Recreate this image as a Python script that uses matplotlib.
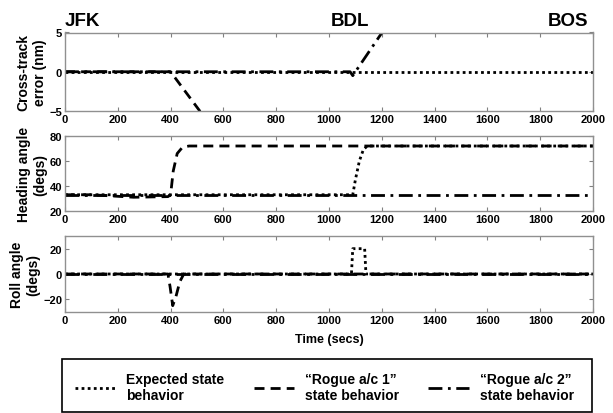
import numpy as np
import matplotlib.pyplot as plt
from matplotlib.patches import Rectangle

plt.rcParams['font.family'] = ['Liberation Sans', 'DejaVu Sans']
plt.rcParams['font.weight'] = 'bold'

# ---- data ----
# expected state behaviour
t_exp      = [0, 1090, 1100, 1115, 1130, 1145, 2000]
xtrk_exp   = [0, 0, 0, 0, 0, 0, 0]
head_exp   = [33, 33, 45, 60, 69, 72, 72]
t_exp_roll = [0, 1085, 1090, 1135, 1140, 2000]
roll_exp   = [0, 0, 20, 20, 0, 0]

# "Rogue a/c 1"
t_r1_xtrk  = [0, 400, 515, 560]
xtrk_r1    = [0, 0, -5.2, -7.3]
t_r1_head  = [0, 100, 180, 260, 390, 400, 410, 425, 445, 470, 2000]
head_r1    = [33, 33, 32, 31, 31.5, 33, 52, 66, 71, 72, 72]
t_r1_roll  = [0, 390, 398, 408, 420, 435, 450, 2000]
roll_r1    = [0, 0, -10, -25, -18, -6, 0, 0]

# "Rogue a/c 2"
t_r2_xtrk  = [0, 1080, 1090, 1205, 1250]
xtrk_r2    = [0, 0, -0.5, 5.2, 7.2]
t_r2_head  = [0, 2000]
head_r2    = [33, 33]
t_r2_roll  = [0, 2000]
roll_r2    = [0, 0]

labels = ['Expected state\nbehavior', '\u201cRogue a/c 1\u201d\nstate behavior',
          '\u201cRogue a/c 2\u201d\nstate behavior']

st_exp = dict(color='k', lw=2, linestyle=(0, (1, 1.2)))
st_r1 = dict(color='k', lw=2, linestyle=(0, (3.6, 2.2)))
st_r2 = dict(color='k', lw=2, linestyle=(0, (5, 2, 1, 2)))

fig = plt.figure(figsize=(6.13, 4.14), dpi=100)
W, H = 613.0, 414.0
left, right = 65 / W, 593 / W
boxes = [(33.5, 112), (137, 212), (237, 313)]
axes = []
for top, bot in boxes:
    ax = fig.add_axes([left, 1 - bot / H, right - left, (bot - top) / H])
    axes.append(ax)

ax1, ax2, ax3 = axes
ax1.plot(t_r1_xtrk, xtrk_r1, **st_r1)
ax1.plot(t_r2_xtrk, xtrk_r2, **st_r2)
ax1.plot(t_exp, xtrk_exp, **st_exp)
ax1.set_ylim(-5, 5)
ax1.set_yticks([-5, 0, 5])
ax1.set_ylabel('Cross-track\nerror (nm)', fontsize=10, fontweight='bold', labelpad=2)

ax2.plot(t_r1_head, head_r1, **st_r1)
ax2.plot(t_r2_head, head_r2, **st_r2)
ax2.plot(t_exp, head_exp, **st_exp)
ax2.set_ylim(20, 80)
ax2.set_yticks([20, 40, 60, 80])
ax2.set_ylabel('Heading angle\n(degs)', fontsize=10, fontweight='bold', labelpad=2)

l1, = ax3.plot(t_r1_roll, roll_r1, **st_r1)
l2, = ax3.plot(t_r2_roll, roll_r2, **st_r2)
l0, = ax3.plot(t_exp_roll, roll_exp, **st_exp)
ax3.set_ylim(-30, 30)
ax3.set_yticks([-20, 0, 20])
ax3.set_ylabel('Roll angle\n(degs)', fontsize=10, fontweight='bold', labelpad=2)
ax3.set_xlabel('Time (secs)', fontsize=9, fontweight='bold', labelpad=6)

for ax in axes:
    ax.set_xlim(0, 2000)
    ax.set_xticks(np.arange(0, 2001, 200))
    ax.tick_params(direction='in', top=True, right=True, length=3,
                   labelsize=8, pad=2, color='#808080')
    for lab in ax.get_xticklabels() + ax.get_yticklabels():
        lab.set_fontweight('bold')
    for s in ax.spines.values():
        s.set_color('#909090')
        s.set_linewidth(1)

# airports along the route
fig.text(65 / W, 1 - 21 / H, 'JFK', fontsize=13.5, fontweight='bold', ha='left', va='center')
fig.text(350 / W, 1 - 21 / H, 'BDL', fontsize=13.5, fontweight='bold', ha='center', va='center')
fig.text(588 / W, 1 - 21 / H, 'BOS', fontsize=13.5, fontweight='bold', ha='right', va='center')

# legend box below the panels
fig.patches.append(Rectangle((62 / W, 1 / H), 530 / W, 53 / H, transform=fig.transFigure,
                             fill=False, edgecolor='k', lw=1.2))
fig.legend([l0, l1, l2], labels, loc='center left',
           bbox_to_anchor=(68 / W, 1 - 388 / H), ncol=3, frameon=False,
           handlelength=2.9, handletextpad=0.8, columnspacing=2.1, borderpad=0,
           prop={'weight': 'bold', 'size': 10})

plt.savefig('out.png', dpi=100)
